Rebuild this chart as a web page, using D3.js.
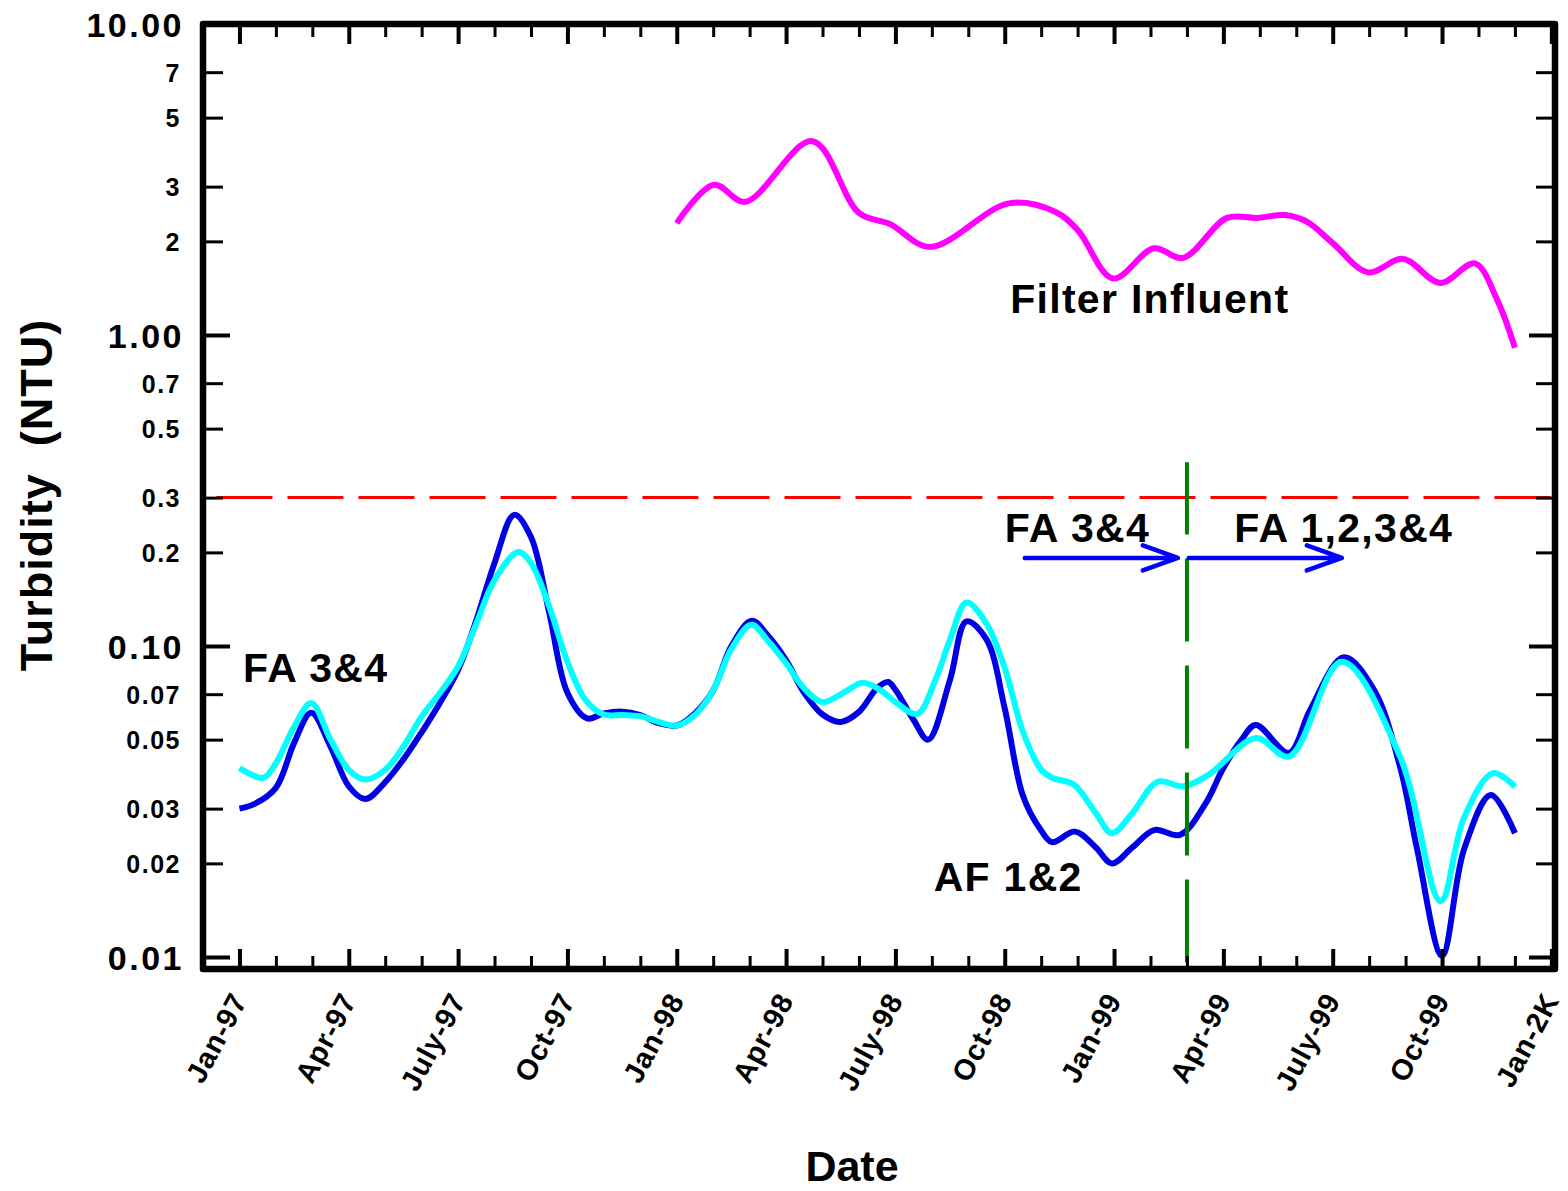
<!DOCTYPE html>
<html>
<head>
<meta charset="utf-8">
<script src="https://cdn.jsdelivr.net/npm/d3@7"></script>
<style>
  body { margin: 0; background: #fff; }
  text { font-family: "Liberation Sans", Arial, sans-serif; font-weight: bold; fill: #000; }
</style>
</head>
<body>
<script>
// months counted from Jan-97 (0) ... Jan-2K (36)
const tickMonths = [0, 3, 6, 9, 12, 15, 18, 21, 24, 27, 30, 33, 36];
const tickLabels = ["Jan-97", "Apr-97", "July-97", "Oct-97", "Jan-98", "Apr-98", "July-98",
                    "Oct-98", "Jan-99", "Apr-99", "July-99", "Oct-99", "Jan-2K"];
const majorY = [0.01, 0.1, 1, 10];
const minorY = [0.02, 0.03, 0.05, 0.07, 0.2, 0.3, 0.5, 0.7, 2, 3, 5, 7];

// AF 1&2 (blue)
const afMonths = [0, 0.4, 1, 1.5, 1.97, 2.5, 3, 3.45, 4, 4.5, 5, 5.5, 6, 6.5, 7, 7.54, 8, 8.5, 9, 9.54,
                  10, 10.5, 11, 11.5, 12, 12.5, 13, 13.5, 14.06, 14.5, 15, 15.5, 16, 16.5, 17, 17.5, 17.8,
                  18, 18.5, 18.9, 19.5, 19.95, 20.5, 21, 21.5, 22, 22.3, 22.93, 23.5, 23.94, 24.5, 25.1,
                  25.81, 26.5, 27, 27.5, 27.89, 28.8, 29.38, 30.31, 31.14, 31.85, 32.32, 33, 33.6, 34.34, 35];
const afValues = [0.030, 0.031, 0.035, 0.0488, 0.061, 0.0475, 0.0354, 0.0322, 0.0365, 0.0432, 0.0528,
                  0.0656, 0.0837, 0.121, 0.185, 0.264, 0.224, 0.128, 0.0707, 0.0585,
                  0.0607, 0.0615, 0.060, 0.0565, 0.0555, 0.0607, 0.072, 0.100, 0.1205, 0.108, 0.090,
                  0.0706, 0.0602, 0.057, 0.0614, 0.0733, 0.0766,
                  0.0723, 0.0578, 0.050, 0.078, 0.120, 0.105, 0.063, 0.033, 0.0255, 0.0234, 0.0253,
                  0.0225, 0.020, 0.0225, 0.0256,
                  0.0247, 0.031, 0.0405, 0.050, 0.0557, 0.0453, 0.0623, 0.092, 0.072, 0.0408, 0.0221,
                  0.0101, 0.0221, 0.0332, 0.025];

// FA 3&4 (cyan)
const faMonths = [0, 0.65, 1, 1.5, 1.97, 2.5, 3, 3.45, 4, 4.5, 5, 5.5, 6, 6.5, 7, 7.65, 8, 8.5, 9, 9.5,
                  10, 10.5, 11, 11.5, 12, 12.5, 13, 13.5, 14.05, 14.5, 15, 15.5, 16, 16.6, 17.1, 17.6,
                  18, 18.6, 19.1, 19.5, 19.95, 20.5, 21, 21.5, 22, 22.3, 22.9, 23.5, 23.94, 24.5, 25.2,
                  25.9, 26.6, 27.9, 28.8, 30.25, 31.85, 32.96, 33.6, 34.4, 35];
const faValues = [0.0405, 0.0377, 0.042, 0.055, 0.0656, 0.050, 0.040, 0.0372, 0.040, 0.0475, 0.0594,
                  0.0706, 0.0859, 0.118, 0.163, 0.2005, 0.185, 0.134, 0.089, 0.067,
                  0.0602, 0.060, 0.0595, 0.057, 0.0555, 0.060, 0.072, 0.098, 0.117, 0.104, 0.088,
                  0.073, 0.066, 0.071, 0.0762, 0.072,
                  0.066, 0.0605, 0.078, 0.105, 0.138, 0.118, 0.085, 0.053, 0.040, 0.0377, 0.0358,
                  0.029, 0.025, 0.029, 0.0366,
                  0.0354, 0.0386, 0.0506, 0.0441, 0.089, 0.044, 0.0151, 0.028, 0.039, 0.0353];

// Filter Influent (magenta)
const fiMonths = [12, 13.02, 13.88, 15.72, 17, 17.86, 18.95, 21.11, 22.38, 23.01, 23.97, 25.09, 25.89,
                  27.1, 27.93, 28.7, 29.3, 30.01, 30.97, 31.93, 32.95, 33.9, 34.51, 35];
const fiValues = [2.29, 3.04, 2.68, 4.2, 2.47, 2.27, 1.92, 2.65, 2.49, 2.17, 1.52, 1.90, 1.77,
                  2.38, 2.38, 2.43, 2.31, 1.97, 1.59, 1.757, 1.47, 1.70, 1.30, 0.91];

const limitValue = 0.3;         // red dashed line
const switchMonth = 26;          // green dashed line (Mar-99)
const arrowValue = 0.192;
const arrow1 = [21.55, 25.75];
const arrow2 = [26.05, 30.25];

const W = 1568, H = 1191;
const L = 203, R = 1555, T = 24, B = 969;

const svg = d3.select("body").append("svg")
  .attr("width", W).attr("height", H);

const x = d3.scaleLinear().domain([-1, 36.1]).range([L, R]);
const y = d3.scaleLog().domain([0.00915, 10]).range([B, T]);

const line = d3.line()
  .x(d => x(d[0]))
  .y(d => y(d[1]))
  .curve(d3.curveCatmullRom.alpha(0.5));

// limit line
svg.append("line")
  .attr("x1", x(-0.63)).attr("x2", x(36))
  .attr("y1", y(limitValue)).attr("y2", y(limitValue))
  .attr("stroke", "#ff0000").attr("stroke-width", 3)
  .attr("stroke-dasharray", "56,15");

svg.append("path")
  .datum(d3.zip(afMonths, afValues))
  .attr("d", line)
  .attr("fill", "none").attr("stroke", "#0000e6").attr("stroke-width", 6);

svg.append("path")
  .datum(d3.zip(faMonths, faValues))
  .attr("d", line)
  .attr("fill", "none").attr("stroke", "#00ffff").attr("stroke-width", 6);

svg.append("path")
  .datum(d3.zip(fiMonths, fiValues))
  .attr("d", line)
  .attr("fill", "none").attr("stroke", "#ff00ff").attr("stroke-width", 6);

// switch line, dashes counted from the bottom
svg.append("line")
  .attr("x1", x(switchMonth)).attr("x2", x(switchMonth))
  .attr("y1", y(0.0096)).attr("y2", y(0.39))
  .attr("stroke", "#008000").attr("stroke-width", 4)
  .attr("stroke-dasharray", "83,24");

// arrows
[arrow1, arrow2].forEach(a => {
  const x0 = x(a[0]), x1 = x(a[1]), yy = y(arrowValue);
  svg.append("path")
    .attr("d", `M${x0},${yy}L${x1},${yy}M${x1 - 35},${yy - 12.5}L${x1},${yy}L${x1 - 35},${yy + 12.5}`)
    .attr("fill", "none").attr("stroke", "#0000ff").attr("stroke-width", 4.5)
    .attr("stroke-linecap", "round").attr("stroke-linejoin", "round");
});

// annotations
const notes = [
  {t: "FA 3&4", m: 0.1, v: 0.0768},
  {t: "Filter Influent", m: 21.15, v: 1.18},
  {t: "FA 3&4", m: 21.0, v: 0.216},
  {t: "FA 1,2,3&4", m: 27.3, v: 0.216},
  {t: "AF 1&2", m: 19.05, v: 0.0163}
];
svg.selectAll("text.note").data(notes).enter().append("text")
  .attr("class", "note")
  .attr("x", d => x(d.m)).attr("y", d => y(d.v))
  .attr("font-size", 41).attr("letter-spacing", 1.3)
  .text(d => d.t);

// axes
function styleTicks(g, w) {
  g.select(".domain").remove();
  g.selectAll(".tick line").attr("stroke", "#000").attr("stroke-width", w);
}
const allMonths = d3.range(0, 37);
const minorMonths = allMonths.filter(m => m % 3 !== 0);

svg.append("g").attr("transform", `translate(0,${B})`)
  .call(d3.axisBottom(x).tickValues(minorMonths).tickSize(-13).tickFormat(""))
  .call(g => styleTicks(g, 3));
svg.append("g").attr("transform", `translate(0,${B})`)
  .call(d3.axisBottom(x).tickValues(tickMonths).tickSize(-20)
        .tickFormat((d, i) => tickLabels[i]))
  .call(g => styleTicks(g, 4))
  .call(g => g.selectAll("text")
    .attr("font-size", 29).attr("letter-spacing", 0.8)
    .attr("font-family", "Liberation Sans, Arial, sans-serif")
    .attr("font-weight", "bold").attr("fill", "#000")
    .attr("text-anchor", "end").attr("y", 0).attr("dy", 0)
    .attr("transform", "translate(8,31) rotate(-62)"));

svg.append("g").attr("transform", `translate(0,${T})`)
  .call(d3.axisTop(x).tickValues(minorMonths).tickSize(-13).tickFormat(""))
  .call(g => styleTicks(g, 3));
svg.append("g").attr("transform", `translate(0,${T})`)
  .call(d3.axisTop(x).tickValues(tickMonths).tickSize(-20).tickFormat(""))
  .call(g => styleTicks(g, 4));

const minorFmt = d => d >= 1 ? d.toFixed(0) : d >= 0.1 ? d.toFixed(1) : d.toFixed(2);
svg.append("g").attr("transform", `translate(${L},0)`)
  .call(d3.axisLeft(y).tickValues(minorY).tickSize(-20).tickPadding(22).tickFormat(minorFmt))
  .call(g => styleTicks(g, 3))
  .call(g => g.selectAll("text").attr("font-size", 25).attr("letter-spacing", 1.5)
    .attr("font-family", "Liberation Sans, Arial, sans-serif").attr("font-weight", "bold")
    .attr("fill", "#000").attr("dy", "0.36em"));
svg.append("g").attr("transform", `translate(${L},0)`)
  .call(d3.axisLeft(y).tickValues(majorY).tickSize(-27).tickPadding(19).tickFormat(d3.format(".2f")))
  .call(g => styleTicks(g, 4))
  .call(g => g.selectAll("text").attr("font-size", 34).attr("letter-spacing", 2.5)
    .attr("font-family", "Liberation Sans, Arial, sans-serif").attr("font-weight", "bold")
    .attr("fill", "#000").attr("dy", "0.36em"));

svg.append("g").attr("transform", `translate(${R},0)`)
  .call(d3.axisRight(y).tickValues(minorY).tickSize(-19).tickFormat(""))
  .call(g => styleTicks(g, 3));
svg.append("g").attr("transform", `translate(${R},0)`)
  .call(d3.axisRight(y).tickValues(majorY).tickSize(-26).tickFormat(""))
  .call(g => styleTicks(g, 4));

// frame
svg.append("rect")
  .attr("x", L).attr("y", T).attr("width", R - L).attr("height", B - T)
  .attr("fill", "none").attr("stroke", "#000").attr("stroke-width", 6.5)
  .attr("stroke-linejoin", "round");

// axis titles
svg.append("text")
  .attr("transform", `translate(52,495) rotate(-90)`)
  .attr("text-anchor", "middle").attr("font-size", 45).attr("letter-spacing", 1)
  .style("white-space", "pre")
  .text("Turbidity  (NTU)");
svg.append("text")
  .attr("x", 852).attr("y", 1181)
  .attr("text-anchor", "middle").attr("font-size", 43)
  .text("Date");
</script>
</body>
</html>
